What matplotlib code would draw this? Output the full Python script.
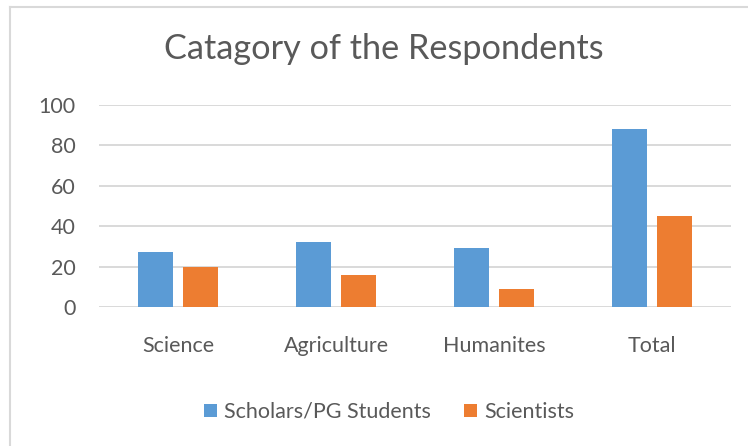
import numpy as np
import matplotlib.pyplot as plt
from matplotlib.lines import Line2D

plt.rcParams['font.family'] = ['Lato', 'DejaVu Sans']

categories = ['Science', 'Agriculture', 'Humanites', 'Total']
scholars = [27, 32, 29, 88]
scientists = [20, 16, 9, 45]
series_names = ['Scholars/PG Students', 'Scientists']

blue = '#5b9bd5'
orange = '#ed7d31'
text_col = '#595959'
grid_col = '#d9d9d9'

W, H = 748, 446
fig = plt.figure(figsize=(W / 100, H / 100), dpi=100)
# plot area in pixels: x 99..731, y 105..307
ax = fig.add_axes([99 / W, 1 - 307 / H, 632 / W, 202 / H])

x = np.arange(len(categories))
w = 0.222
off = 0.142
ax.bar(x - off, scholars, w, color=blue, label=series_names[0], zorder=3)
ax.bar(x + off, scientists, w, color=orange, label=series_names[1], zorder=3)

ax.set_xlim(-0.5, len(categories) - 0.5)
ax.set_ylim(0, 100)
ax.set_yticks(range(0, 101, 20))
ax.grid(axis='y', color=grid_col, linewidth=1.4, zorder=0)
ax.set_xticks(x)
ax.set_xticklabels(categories)
ax.tick_params(length=0, colors=text_col, labelsize=15.5)
ax.tick_params(axis='x', pad=21)
ax.tick_params(axis='y', pad=17)
for s in ax.spines.values():
    s.set_visible(False)

fig.text(384 / W, 1 - 49 / H, 'Catagory of the Respondents', ha='center', va='center',
         fontsize=24.7, color=text_col)

fig.legend(loc='center', bbox_to_anchor=(389 / W, 1 - 412 / H), ncol=2, frameon=False,
           fontsize=15.5, labelcolor=text_col, handlelength=0.6, handleheight=0.6,
           columnspacing=1.5, handletextpad=0.35)

# chart area border (left and top edges visible in the crop)
fig.add_artist(Line2D([10 / W, 10 / W], [0, 1 - 6.5 / H], transform=fig.transFigure,
                      color=grid_col, linewidth=1.5))
fig.add_artist(Line2D([10 / W, 1], [1 - 6.5 / H, 1 - 6.5 / H], transform=fig.transFigure,
                      color=grid_col, linewidth=1.5))

fig.savefig('out.png', dpi=100)
